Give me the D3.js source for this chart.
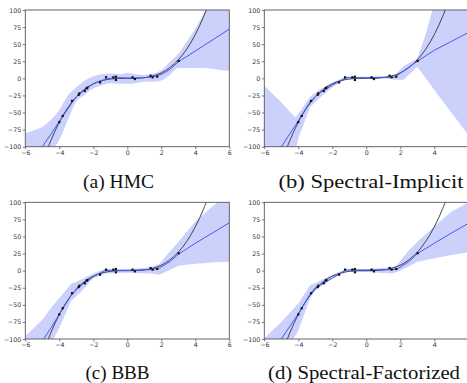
<!DOCTYPE html>
<html>
<head>
<meta charset="utf-8">
<script src="https://cdn.jsdelivr.net/npm/d3@7"></script>
<style>
  body { margin: 0; background: #fff; }
  svg { display: block; }
  .tick text { font-family: "DejaVu Sans", sans-serif; font-size: 6.3px; fill: #333; }
  .caption { font-family: "Liberation Serif", "Times New Roman", Times, serif; font-size: 18.5px; fill: #111; }
</style>
</head>
<body>
<svg id="fig" width="467" height="383"></svg>
<script>
// observed training points
var pointsX = [-4.0, -3.8, -3.25, -2.86, -2.82, -2.5, -2.39, -2.35, -1.6, -1.25, -0.82, -0.67, -0.67, 0.31, 0.45, 1.37, 1.49, 1.76, 3.02];
var pointsY = [-64, -55, -33, -24, -22, -18.5, -14.6, -13.7, -5.9, 1.5, 1.5, 2.4, -2.4, 1.5, -1, 3.9, 1.5, 2.4, 25.4];

var trueX = [-4.8, -4.5, -4, -3.5, -3, -2.5, -2, -1.5, -1, -0.5, 0, 0.5, 1, 1.5, 2, 2.5, 3, 3.5, 4, 4.5, 4.8];
var trueY = [-110.6, -91.1, -64, -42.9, -27, -15.6, -8, -3.4, -1, -0.1, 0, 0.1, 1, 3.4, 8, 15.6, 27, 42.9, 64, 91.1, 110.6];

// (a) HMC
var hmcX     = [-6, -5.5, -5, -4.5, -4, -3.5, -3, -2.5, -2, -1.5, -1, -0.5, 0, 0.5, 1, 1.5, 2, 2.5, 3, 3.5, 4, 4.5, 5, 5.5, 6];
var hmcMean  = [-137, -119, -100, -82, -63, -45, -27, -17, -8, -3, 0, 1, 0.5, 0.5, 1, 2.5, 6, 13, 24, 32, 40, 48, 56, 64, 72];
var hmcUpper = [-80, -76, -71, -61, -46, -25, -13, -3, 3, 6, 7, 6, 8, 6, 5, 7, 12, 24, 36, 54, 73, 95, 115, 135, 155];
var hmcLower = [-140, -130, -120, -108, -90, -61, -34, -24, -15, -10, -7, -8, -8, -7, -5, -5, -3, 5, 15, 15, 15, 15, 14, 12, 11];

// (b) Spectral-Implicit
var siX     = [-6, -5, -4.2, -4, -3.3, -2.8, -2, -1.2, 0, 1, 1.7, 2.2, 3, 3.5, 4, 5, 6];
var siMean  = [-138, -100, -70, -62, -34, -22, -10, 1, 1, 1.5, 2, 11, 25, 33, 41, 54, 67];
var siUpper = [-11, -35, -57, -52, -27, -17, -6, 2.5, 2.5, 3, 5, 18, 29, 65, 110, 180, 250];
var siLower = [-200, -140, -110, -88, -42, -30, -13, -1, 0, 0, -2, -2, 17, 0, -17, -50, -83];

// (c) BBB
var bbbX     = [-6, -5, -4.5, -4, -3.3, -2.8, -2, -1.3, 0, 1.4, 1.9, 2.5, 3, 4, 5, 6];
var bbbMean  = [-140, -103, -84, -64, -36, -23, -9, 0.5, 0.5, 1.5, 4, 13, 24, 40, 55, 70];
var bbbUpper = [-96, -72, -55, -40, -19, -14, -4, 2.5, 2, 5, 10, 28, 42, 72, 94, 112];
var bbbLower = [-180, -130, -107, -84, -44, -33, -11, -4, -3, -4, -6, 1, 7, 10, 12, 13];

// (d) Spectral-Factorized
var sfX     = [-6, -5, -4, -3.3, -3, -2, -1.2, 0, 1.5, 1.8, 2.5, 3, 4, 5, 6];
var sfMean  = [-138, -100, -63, -34, -25, -11, 1, 1, 1.5, 2, 13, 25, 40, 55, 69];
var sfUpper = [-99, -75, -48, -21, -18, -6, 2, 2, 5, 8, 30, 42, 65, 86, 100];
var sfLower = [-180, -130, -88, -40, -29, -12, -2, -2, -4, -2, 6, 13, 18, 23, 27];

var captions = ["(a) HMC", "(b) Spectral-Implicit", "(c) BBB", "(d) Spectral-Factorized"];
var xTicks = [-6, -4, -2, 0, 2, 4, 6];
var yTicks = [-100, -75, -50, -25, 0, 25, 50, 75, 100];

var panels = [
  { xs: hmcX, mean: hmcMean, upper: hmcUpper, lower: hmcLower, smooth: true,  left: 25.3,  top: 10,    capX: 118.5, capY: 187.5, capW: 71 },
  { xs: siX,  mean: siMean,  upper: siUpper,  lower: siLower,  smooth: false, left: 264.3, top: 10,    capX: 371,   capY: 187.5, capW: 185 },
  { xs: bbbX, mean: bbbMean, upper: bbbUpper, lower: bbbLower, smooth: false, left: 25.3,  top: 202.3, capX: 117.5, capY: 378.5, capW: 64 },
  { xs: sfX,  mean: sfMean,  upper: sfUpper,  lower: sfLower,  smooth: false, left: 264.3, top: 202.3, capX: 364,   capY: 378.5, capW: 192 }
];

var pw = 204, ph = 136.7;
var svg = d3.select('#fig');
var minus = function(v){ return String(v).replace('-', '\u2212'); };

panels.forEach(function(p, i) {
  var x = d3.scaleLinear().domain([-6, 6]).range([0, pw]);
  var y = d3.scaleLinear().domain([-100, 100]).range([ph, 0]);
  var curve = p.smooth ? d3.curveMonotoneX : d3.curveLinear;

  var g = svg.append('g').attr('transform', 'translate(' + p.left + ',' + p.top + ')');

  g.append('clipPath').attr('id', 'clip' + i)
    .append('rect').attr('width', pw).attr('height', ph);

  var plot = g.append('g').attr('clip-path', 'url(#clip' + i + ')');

  var rows = p.xs.map(function(v, k){ return { x: v, m: p.mean[k], u: p.upper[k], l: p.lower[k] }; });

  plot.append('path').datum(rows)
    .attr('fill', '#cbd1fb')
    .attr('d', d3.area().curve(curve)
      .x(function(d){ return x(d.x); })
      .y0(function(d){ return y(d.l); })
      .y1(function(d){ return y(d.u); }));

  var truth = trueX.map(function(v, k){ return [v, trueY[k]]; });
  plot.append('path').datum(truth)
    .attr('fill', 'none').attr('stroke', '#333').attr('stroke-width', 0.9)
    .attr('d', d3.line().curve(d3.curveCatmullRom)
      .x(function(d){ return x(d[0]); }).y(function(d){ return y(d[1]); }));

  plot.append('path').datum(rows)
    .attr('fill', 'none').attr('stroke', '#3d5cf2').attr('stroke-width', 1)
    .attr('d', d3.line().curve(curve)
      .x(function(d){ return x(d.x); }).y(function(d){ return y(d.m); }));

  plot.selectAll('rect.pt').data(pointsX).enter().append('rect')
    .attr('class', 'pt')
    .attr('x', function(d){ return x(d) - 1.1; })
    .attr('y', function(d, k){ return y(pointsY[k]) - 1.1; })
    .attr('width', 2.2).attr('height', 2.2)
    .attr('fill', '#111');

  var xa = g.append('g').attr('transform', 'translate(0,' + ph + ')')
    .call(d3.axisBottom(x).tickValues(xTicks).tickSize(2.5).tickPadding(1.5).tickFormat(minus));
  var ya = g.append('g')
    .call(d3.axisLeft(y).tickValues(yTicks).tickSize(2.5).tickPadding(1.5).tickFormat(minus));
  [xa, ya].forEach(function(a){
    a.select('.domain').remove();
    a.selectAll('line').attr('stroke', '#444').attr('stroke-width', 0.7);
  });

  g.append('rect').attr('width', pw).attr('height', ph)
    .attr('fill', 'none').attr('stroke', '#555').attr('stroke-width', 0.9);

  svg.append('text').attr('class', 'caption')
    .attr('x', p.capX).attr('y', p.capY)
    .attr('text-anchor', 'middle')
    .attr('textLength', p.capW)
    .attr('lengthAdjust', 'spacingAndGlyphs')
    .text(captions[i]);
});
</script>
</body>
</html>
